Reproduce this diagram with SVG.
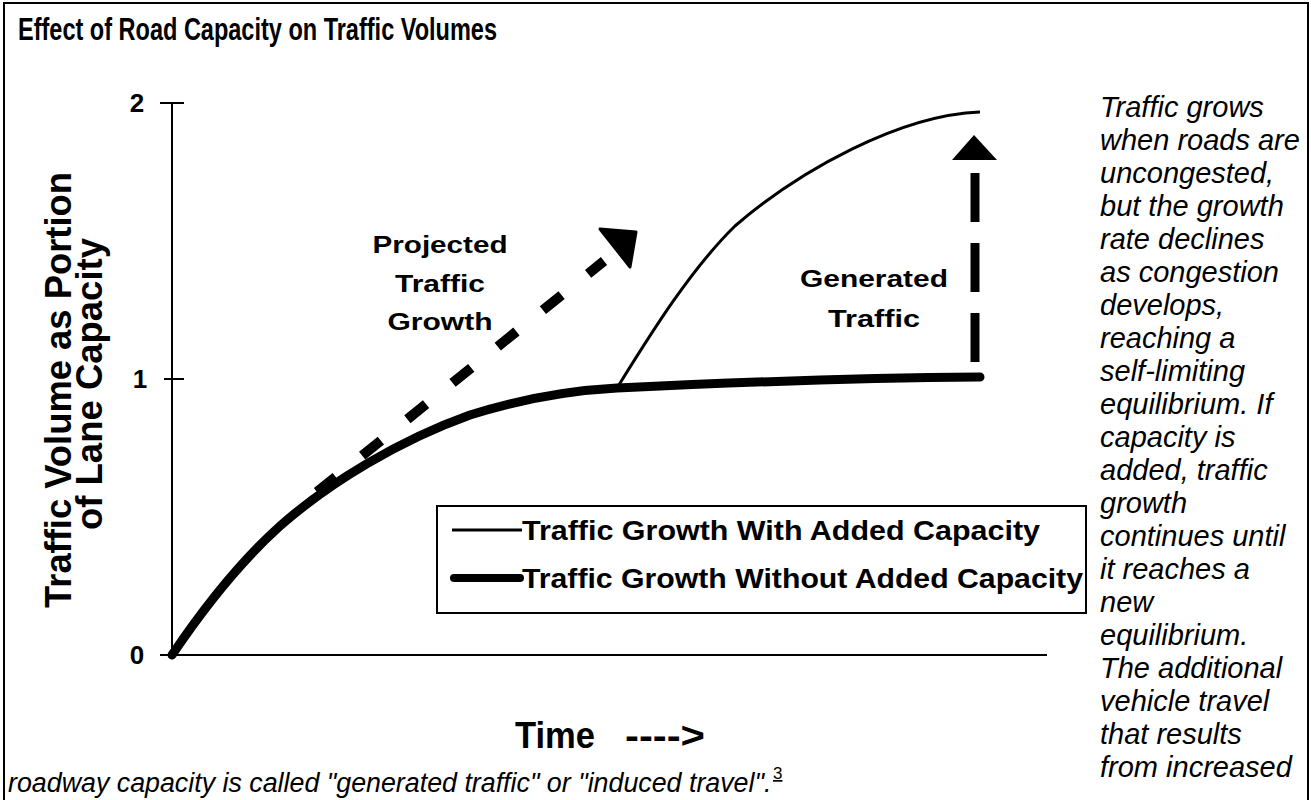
<svg xmlns="http://www.w3.org/2000/svg" width="1311" height="800" viewBox="0 0 1311 800">
<style>
.t{font-family:"Liberation Sans",Arial,sans-serif;fill:#000}
.b{font-weight:bold}
.i{font-style:italic;font-size:29px}
.ax{stroke:#000;stroke-width:2;fill:none}
</style>
<rect x="0" y="0" width="1311" height="800" fill="#fff"/>
<rect x="4" y="3" width="1304" height="810" fill="none" stroke="#000" stroke-width="2"/>
<text class="t b" x="18" y="40" font-size="31" textLength="479" lengthAdjust="spacingAndGlyphs">Effect of Road Capacity on Traffic Volumes</text>

<g id="axes">
<line class="ax" x1="172" y1="103" x2="172" y2="655"/>
<line class="ax" x1="160" y1="103" x2="184" y2="103"/>
<line class="ax" x1="164" y1="379" x2="184" y2="379"/>
<line class="ax" x1="160" y1="655" x2="1047" y2="655"/>
<text class="t b" x="137" y="112" font-size="26" text-anchor="middle">2</text>
<text class="t b" x="140" y="388" font-size="26" text-anchor="middle">1</text>
<text class="t b" x="137" y="664" font-size="26" text-anchor="middle">0</text>
<text class="t b" transform="translate(71,390) rotate(-90)" font-size="36" text-anchor="middle" textLength="436" lengthAdjust="spacingAndGlyphs">Traffic Volume as Portion</text>
<text class="t b" transform="translate(102,384) rotate(-90)" font-size="36" text-anchor="middle" textLength="292" lengthAdjust="spacingAndGlyphs">of Lane Capacity</text>
<text class="t b" y="748" font-size="36"><tspan x="515" textLength="80" lengthAdjust="spacingAndGlyphs">Time</tspan><tspan x="625" textLength="80" lengthAdjust="spacingAndGlyphs">----&gt;</tspan></text>
</g>

<g id="curves">
<path id="without" d="M172,655 C205,606 240,562 280,526 C330,482 400,440 470,415 C530,396 580,390 617,388 C700,384 850,378 980,377" fill="none" stroke="#000" stroke-width="9" stroke-linecap="round"/>
<path id="with" d="M617,388 C650,335 690,270 735,226 C800,170 900,115 980,112" fill="none" stroke="#000" stroke-width="3"/>
</g>

<g id="connectors">
<line x1="317" y1="492" x2="604" y2="261" stroke="#000" stroke-width="10" stroke-dasharray="24 34"/>
<polygon points="600,229 630,267 636,232" fill="#000" stroke="#000" stroke-width="3" stroke-linejoin="round"/>
<line x1="975" y1="362" x2="975" y2="172" stroke="#000" stroke-width="9" stroke-dasharray="49 21"/>
<polygon points="952,160 997,160 974,135" fill="#000"/>
</g>

<g id="label-projected">
<text class="t b" x="440" y="253" font-size="24" text-anchor="middle" textLength="135" lengthAdjust="spacingAndGlyphs">Projected</text>
<text class="t b" x="440" y="292" font-size="24" text-anchor="middle" textLength="90" lengthAdjust="spacingAndGlyphs">Traffic</text>
<text class="t b" x="440" y="330" font-size="24" text-anchor="middle" textLength="105" lengthAdjust="spacingAndGlyphs">Growth</text>
</g>
<g id="label-generated">
<text class="t b" x="874" y="287" font-size="24" text-anchor="middle" textLength="148" lengthAdjust="spacingAndGlyphs">Generated</text>
<text class="t b" x="874" y="327" font-size="24" text-anchor="middle" textLength="92" lengthAdjust="spacingAndGlyphs">Traffic</text>
</g>

<g id="legend">
<rect x="437" y="506" width="649" height="107" fill="none" stroke="#000" stroke-width="2"/>
<line x1="452" y1="530" x2="522" y2="530" stroke="#000" stroke-width="3"/>
<line x1="454" y1="578" x2="520" y2="578" stroke="#000" stroke-width="8" stroke-linecap="round"/>
<text class="t b" x="522" y="540" font-size="27" textLength="518" lengthAdjust="spacingAndGlyphs">Traffic Growth With Added Capacity</text>
<text class="t b" x="522" y="588" font-size="27" textLength="561" lengthAdjust="spacingAndGlyphs">Traffic Growth Without Added Capacity</text>
</g>

<g id="description">
<text class="t i" x="1100" y="117">Traffic grows</text>
<text class="t i" x="1100" y="150">when roads are</text>
<text class="t i" x="1100" y="183">uncongested,</text>
<text class="t i" x="1100" y="216">but the growth</text>
<text class="t i" x="1100" y="249">rate declines</text>
<text class="t i" x="1100" y="282">as congestion</text>
<text class="t i" x="1100" y="315">develops,</text>
<text class="t i" x="1100" y="348">reaching a</text>
<text class="t i" x="1100" y="381">self-limiting</text>
<text class="t i" x="1100" y="414">equilibrium. If</text>
<text class="t i" x="1100" y="447">capacity is</text>
<text class="t i" x="1100" y="480">added, traffic</text>
<text class="t i" x="1100" y="513">growth</text>
<text class="t i" x="1100" y="546">continues until</text>
<text class="t i" x="1100" y="579">it reaches a</text>
<text class="t i" x="1100" y="612">new</text>
<text class="t i" x="1100" y="645">equilibrium.</text>
<text class="t i" x="1100" y="678">The additional</text>
<text class="t i" x="1100" y="711">vehicle travel</text>
<text class="t i" x="1100" y="744">that results</text>
<text class="t i" x="1100" y="777">from increased</text>
<text class="t" x="8" y="792" font-size="26.8" font-style="italic">roadway capacity is called "generated traffic" or "induced travel".</text>
<text class="t" x="773" y="779" font-size="17" fill="#00e" text-decoration="underline">3</text>
</g>
</svg>
